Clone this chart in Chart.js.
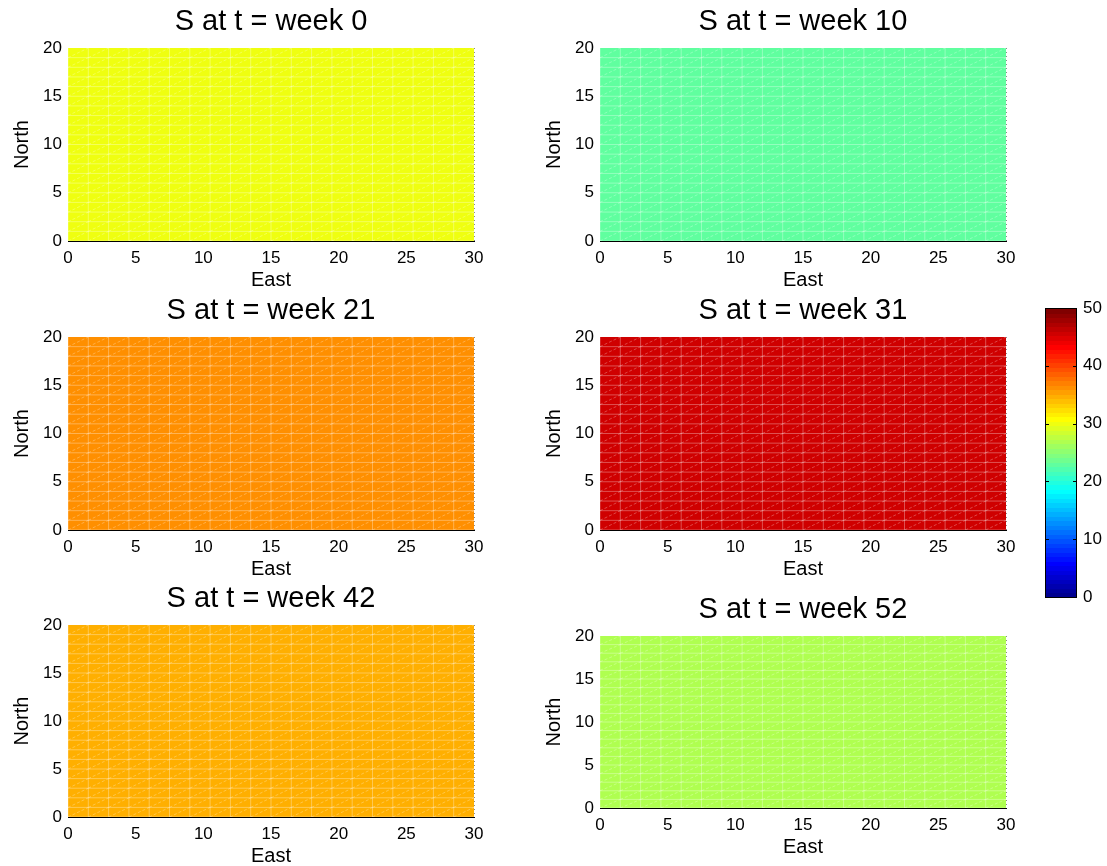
<!DOCTYPE html>
<html>
<head>
<meta charset="utf-8">
<script src="https://cdn.jsdelivr.net/npm/chart.js@4.4.1/dist/chart.umd.min.js"></script>
<style>
  html, body { margin: 0; padding: 0; background: #fff; overflow: hidden; }
  #fig { position: relative; width: 1107px; height: 866px; overflow: hidden; background: #fff; }
  #fig canvas { position: absolute; }
</style>
</head>
<body>
<div id="fig"></div>
<script>
// ---- data ----
const weeks = [0, 10, 21, 31, 42, 52];
// S level of the (spatially uniform) field in each snapshot
const sLevel = [30.1, 23.0, 36.3, 45.7, 34.8, 27.0];
// mesh nodes along each direction
const eastNodes = [0, 1.5, 3, 4.5, 6, 7.5, 9, 10.5, 12, 13.5, 15, 16.5, 18, 19.5, 21, 22.5, 24, 25.5, 27, 28.5, 30];
const northNodes = [0, 1, 2, 3, 4, 5, 6, 7, 8, 9, 10, 11, 12, 13, 14, 15, 16, 17, 18, 19, 20];
const eastTicks = [0, 5, 10, 15, 20, 25, 30];
const northTicks = [0, 5, 10, 15, 20];
const colorTicks = [0, 10, 20, 30, 40, 50];
const colorRange = [0, 50];
const colormapSize = 64;

const FONT = "'Liberation Sans', Arial, Helvetica, sans-serif";
Chart.defaults.color = '#000';
Chart.defaults.font.family = FONT;

// MATLAB-style 64-entry jet colormap
function jet64(i) {
  const k = i + 1;
  let r = 0, g = 0, b = 0;
  if (k >= 25 && k <= 40) r = (k - 24) / 16; else if (k >= 41 && k <= 55) r = 1; else if (k >= 56) r = (72 - k) / 16;
  if (k >= 9 && k <= 24) g = (k - 8) / 16; else if (k >= 25 && k <= 39) g = 1; else if (k >= 40 && k <= 55) g = (56 - k) / 16;
  if (k <= 8) b = (k + 8) / 16; else if (k <= 23) b = 1; else if (k <= 39) b = (40 - k) / 16;
  return 'rgb(' + Math.round(r * 255) + ',' + Math.round(g * 255) + ',' + Math.round(b * 255) + ')';
}
function colorFor(v) {
  const t = (v - colorRange[0]) / (colorRange[1] - colorRange[0]);
  return jet64(Math.max(0, Math.min(colormapSize - 1, Math.floor(t * colormapSize))));
}

// draws the triangulated surface cells through the chart scales
const fieldMesh = {
  id: 'fieldMesh',
  beforeDatasetsDraw(chart) {
    const { ctx, chartArea: a, scales: { x, y } } = chart;
    const cells = chart.data.datasets[0].data;
    ctx.save();
    ctx.beginPath();
    ctx.rect(a.left, a.top, a.right - a.left, a.bottom - a.top);
    ctx.clip();
    // faces
    const byColor = {};
    cells.forEach(c => { const col = colorFor(c.s); (byColor[col] = byColor[col] || []).push(c); });
    Object.keys(byColor).forEach(col => {
      ctx.beginPath();
      byColor[col].forEach(c => {
        const px0 = x.getPixelForValue(c.x0), px1 = x.getPixelForValue(c.x1);
        const py0 = y.getPixelForValue(c.y0), py1 = y.getPixelForValue(c.y1);
        ctx.rect(px0, py1, px1 - px0, py0 - py1);
      });
      ctx.fillStyle = col;
      ctx.fill();
    });
    // mesh edges
    ctx.lineWidth = 1;
    ctx.strokeStyle = 'rgba(255,255,255,0.32)';
    ctx.beginPath();
    cells.forEach(c => {
      const px0 = x.getPixelForValue(c.x0), px1 = x.getPixelForValue(c.x1);
      const py0 = y.getPixelForValue(c.y0), py1 = y.getPixelForValue(c.y1);
      ctx.moveTo(px0, py0); ctx.lineTo(px1, py0);
      ctx.moveTo(px0, py0); ctx.lineTo(px0, py1);
    });
    ctx.stroke();
    // triangle diagonals
    ctx.strokeStyle = 'rgba(255,255,255,0.28)';
    ctx.setLineDash([3, 2]);
    ctx.beginPath();
    cells.forEach(c => {
      ctx.moveTo(x.getPixelForValue(c.x0), y.getPixelForValue(c.y0));
      ctx.lineTo(x.getPixelForValue(c.x1), y.getPixelForValue(c.y1));
    });
    ctx.stroke();
    ctx.restore();
  }
};

// colour scale bar
const colorbarFill = {
  id: 'colorbarFill',
  beforeDatasetsDraw(chart) {
    const { ctx, chartArea: a, scales: { x, y } } = chart;
    const levels = chart.data.datasets[0].data;
    ctx.save();
    levels.forEach(l => {
      const px0 = x.getPixelForValue(0), px1 = x.getPixelForValue(1);
      const py0 = Math.round(y.getPixelForValue(l.lo)), py1 = Math.round(y.getPixelForValue(l.hi));
      ctx.fillStyle = l.color;
      ctx.fillRect(px0, py1, px1 - px0, py0 - py1 + 1);
    });
    ctx.strokeStyle = '#000';
    ctx.lineWidth = 1;
    ctx.strokeRect(Math.round(a.left) + 0.5, Math.round(a.top) + 0.5, Math.round(a.right - a.left) - 1, Math.round(a.bottom - a.top));
    ctx.beginPath();
    colorTicks.forEach(v => {
      const py = Math.round(y.getPixelForValue(v)) + 0.5;
      ctx.moveTo(a.left, py); ctx.lineTo(a.left + 4, py);
      ctx.moveTo(a.right, py); ctx.lineTo(a.right - 4, py);
    });
    ctx.stroke();
    ctx.restore();
  }
};

// ---- layout of the six panels ----
const panels = [
  { left: 0,   top: 0,   plotH: 193 },
  { left: 532, top: 0,   plotH: 193 },
  { left: 0,   top: 289, plotH: 193 },
  { left: 532, top: 289, plotH: 193 },
  { left: 0,   top: 577, plotH: 192 },
  { left: 532, top: 588, plotH: 172 }
];

const fig = document.getElementById('fig');

function makePanel(k) {
  const pos = panels[k];
  const cv = document.createElement('canvas');
  cv.width = 540;
  cv.height = 48 + pos.plotH + 54;
  cv.style.left = pos.left + 'px';
  cv.style.top = pos.top + 'px';
  fig.appendChild(cv);

  const cells = [];
  for (let i = 0; i < eastNodes.length - 1; i++) {
    for (let j = 0; j < northNodes.length - 1; j++) {
      cells.push({
        x: (eastNodes[i] + eastNodes[i + 1]) / 2, y: (northNodes[j] + northNodes[j + 1]) / 2,
        x0: eastNodes[i], x1: eastNodes[i + 1], y0: northNodes[j], y1: northNodes[j + 1],
        s: sLevel[k]
      });
    }
  }

  new Chart(cv, {
    type: 'scatter',
    data: { datasets: [{ data: cells, pointRadius: 0, pointHoverRadius: 0 }] },
    options: {
      responsive: false, animation: false, devicePixelRatio: 1, events: [],
      layout: { padding: { left: 0, right: 66, top: 0, bottom: 0 } },
      plugins: {
        legend: { display: false }, tooltip: { enabled: false },
        title: {
          display: true, fullSize: false, text: 'S at t = week ' + weeks[k], color: '#000',
          font: { size: 29, weight: 'normal', family: FONT, lineHeight: 1.2 },
          padding: { top: 5, bottom: 8.2 }
        }
      },
      scales: {
        x: {
          type: 'linear', min: 0, max: 30, z: 1,
          afterBuildTicks: s => { s.ticks = eastTicks.map(v => ({ value: v })); },
          afterFit: s => { s.height = 54; },
          ticks: { font: { size: 17, family: FONT }, color: '#000', padding: 7, autoSkip: false, maxRotation: 0 },
          grid: { color: 'rgba(0,0,0,0.45)', drawTicks: false, lineWidth: 1 },
          border: { display: true, color: '#000', width: 1, dash: [1, 3] },
          title: { display: true, text: 'East', color: '#000', font: { size: 20, family: FONT }, padding: { top: 0, bottom: 3 } }
        },
        y: {
          type: 'linear', min: 0, max: 20, z: 1,
          afterBuildTicks: s => { s.ticks = northTicks.map(v => ({ value: v })); },
          afterFit: s => { s.width = 68; },
          ticks: { font: { size: 17, family: FONT }, color: '#000', padding: 6, autoSkip: false },
          grid: { color: 'rgba(0,0,0,0.45)', drawTicks: false, lineWidth: 1 },
          border: { display: true, color: '#000', width: 1, dash: [1, 3] },
          title: { display: true, text: 'North', color: '#000', font: { size: 20, family: FONT }, padding: { top: 10, bottom: 0 } }
        }
      }
    },
    plugins: [fieldMesh]
  });
}

weeks.forEach((w, k) => makePanel(k));

// ---- colour bar ----
(function () {
  const cv = document.createElement('canvas');
  cv.width = 77; cv.height = 330;
  cv.style.left = '1030px'; cv.style.top = '290px';
  fig.appendChild(cv);
  const span = colorRange[1] - colorRange[0];
  const levels = [];
  for (let i = 0; i < colormapSize; i++) {
    const lo = colorRange[0] + i * span / colormapSize, hi = colorRange[0] + (i + 1) * span / colormapSize;
    levels.push({ x: 0.5, y: (lo + hi) / 2, lo: lo, hi: hi, color: jet64(i) });
  }
  new Chart(cv, {
    type: 'scatter',
    data: { datasets: [{ data: levels, pointRadius: 0, pointHoverRadius: 0 }] },
    options: {
      responsive: false, animation: false, devicePixelRatio: 1, events: [],
      layout: { padding: { left: 15, right: 0, top: 18, bottom: 23 } },
      plugins: { legend: { display: false }, tooltip: { enabled: false } },
      scales: {
        x: { type: 'linear', min: 0, max: 1, display: false },
        y: {
          type: 'linear', position: 'right', min: colorRange[0], max: colorRange[1],
          afterBuildTicks: s => { s.ticks = colorTicks.map(v => ({ value: v })); },
          afterFit: s => { s.width = 30; },
          ticks: { font: { size: 17, family: FONT }, color: '#000', padding: 6, autoSkip: false },
          grid: { display: false, drawTicks: false },
          border: { display: false }
        }
      }
    },
    plugins: [colorbarFill]
  });
})();
</script>
</body>
</html>
